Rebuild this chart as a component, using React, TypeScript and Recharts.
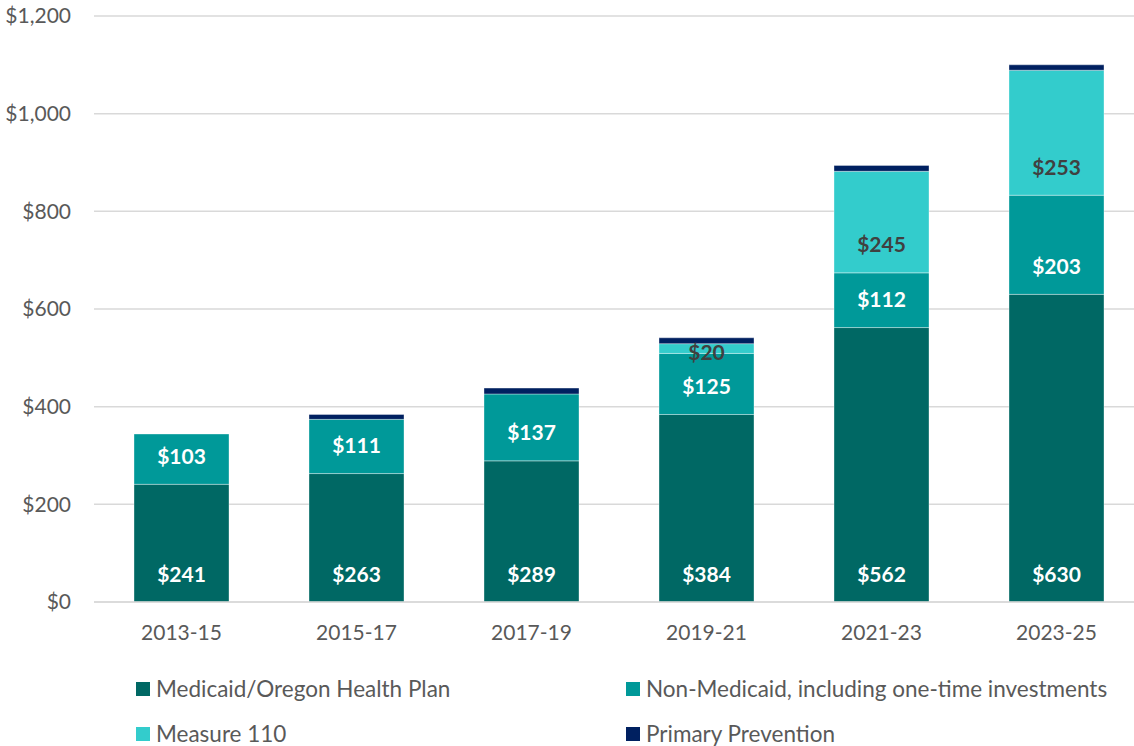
import React from "react";
import { BarChart, Bar, XAxis, YAxis, CartesianGrid, LabelList } from "recharts";

const categories = ["2013-15", "2015-17", "2017-19", "2019-21", "2021-23", "2023-25"];
const medicaid = [241, 263, 289, 384, 562, 630];
const nonMedicaid = [103, 111, 137, 125, 112, 203];
const measure110 = [0, 0, 0, 20, 208, 256];
const measure110Labels = ["", "", "", "$20", "$245", "$253"];
const primaryPrevention = [0, 10, 12, 12, 12, 11];
const yTicks = [0, 200, 400, 600, 800, 1000, 1200];

const seriesNames = [
  "Medicaid/Oregon Health Plan",
  "Non-Medicaid, including one-time investments",
  "Measure 110",
  "Primary Prevention",
];
const seriesColors = ["#006864", "#009999", "#33CCCC", "#002060"];

const data = categories.map((c, i) => ({
  cat: c,
  medicaid: medicaid[i],
  nonMedicaid: nonMedicaid[i],
  measure110: measure110[i],
  m110Label: measure110Labels[i],
  primary: primaryPrevention[i],
}));

const FONT = "Lato, 'Open Sans', sans-serif";

const fmtY = (v: number) => "$" + v.toLocaleString("en-US");

const makeLabel = (color: string, prefix: string) => (props: any) => {
  const { x, y, width, height, value } = props;
  if (!value || !height) return null;
  const ty = height > 40 ? y + height - 29 : y + height / 2 + 3;
  return (
    <text x={x + width / 2} y={ty} textAnchor="middle" dominantBaseline="central"
      fill={color} fontFamily={FONT} fontSize={21} fontWeight={700}>
      {prefix + value}
    </text>
  );
};

const WhiteLabel = makeLabel("#ffffff", "$");
const DarkLabel = makeLabel("#404040", "");

const legendPos = [
  { left: 136, top: 689 },
  { left: 626, top: 689 },
  { left: 136, top: 734 },
  { left: 626, top: 734 },
];

export default function App() {
  return (
    <div style={{ position: "absolute", left: 0, top: 0, width: 1134, height: 746, overflow: "hidden", background: "#fff" }}>
      <BarChart
        width={1150}
        height={746}
        data={data}
        margin={{ top: 16, right: 6, left: 0, bottom: 104 }}
      >
        <CartesianGrid vertical={false} stroke="#D9D9D9" strokeWidth={1.5} />
        <XAxis
          dataKey="cat"
          axisLine={{ stroke: "#D9D9D9", strokeWidth: 1.5 }}
          tickLine={false}
          tickSize={0}
          tickMargin={23}
          height={40}
          tick={{ fill: "#595959", fontSize: 21, fontFamily: FONT }}
          interval={0}
        />
        <YAxis
          domain={[0, 1200]}
          ticks={yTicks}
          tickFormatter={fmtY}
          axisLine={false}
          tickLine={false}
          tickSize={0}
          tickMargin={23}
          width={94}
          tick={{ fill: "#595959", fontSize: 21, fontFamily: FONT }}
        />
        <Bar dataKey="medicaid" stackId="a" fill={seriesColors[0]} barSize={95} isAnimationActive={false}
          stroke="#ffffff" strokeOpacity={0.35} strokeWidth={1}>
          <LabelList dataKey="medicaid" content={WhiteLabel} />
        </Bar>
        <Bar dataKey="nonMedicaid" stackId="a" fill={seriesColors[1]} barSize={95} isAnimationActive={false}
          stroke="#ffffff" strokeOpacity={0.35} strokeWidth={1}>
          <LabelList dataKey="nonMedicaid" content={WhiteLabel} />
        </Bar>
        <Bar dataKey="measure110" stackId="a" fill={seriesColors[2]} barSize={95} isAnimationActive={false}
          stroke="#ffffff" strokeOpacity={0.35} strokeWidth={1}>
          <LabelList dataKey="m110Label" content={DarkLabel} />
        </Bar>
        <Bar dataKey="primary" stackId="a" fill={seriesColors[3]} barSize={95} isAnimationActive={false}
          stroke="#ffffff" strokeOpacity={0.35} strokeWidth={1} />
      </BarChart>
      {seriesNames.map((name, i) => (
        <div key={name} style={{ position: "absolute", left: legendPos[i].left, top: legendPos[i].top - 12, height: 24, lineHeight: "24px", display: "flex", alignItems: "center", fontFamily: FONT, fontSize: 22.5, color: "#595959", whiteSpace: "nowrap" }}>
          <span style={{ display: "inline-block", width: 14, height: 14, background: seriesColors[i], marginRight: 6 }} />
          <span>{name}</span>
        </div>
      ))}
    </div>
  );
}
